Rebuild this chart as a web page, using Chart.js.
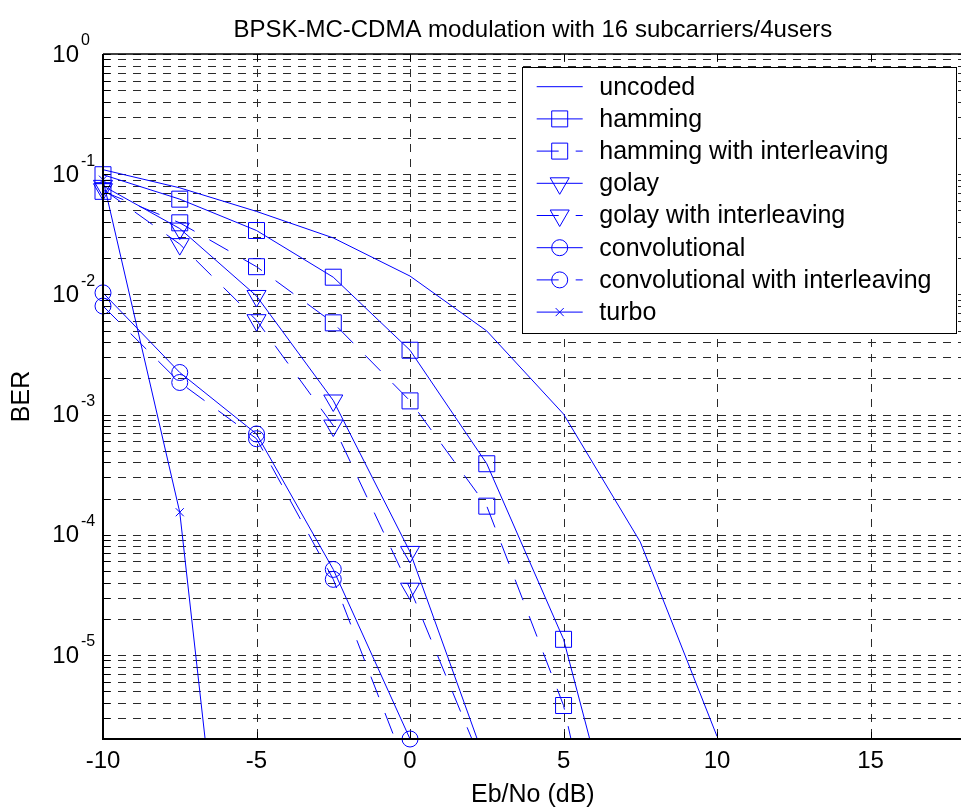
<!DOCTYPE html>
<html>
<head>
<meta charset="utf-8">
<title>BPSK-MC-CDMA BER</title>
<script src="https://cdn.jsdelivr.net/npm/chart.js@4.4.1/dist/chart.umd.js"></script>
<style>
  html, body { margin: 0; padding: 0; background: #fff; overflow: hidden; }
  canvas { display: block; }
</style>
</head>
<body>
<canvas id="berChart" width="975" height="812"></canvas>
<script>
// Eb/No points (dB) and the BER of each scheme
const ebno = [-10, -7.5, -5, -2.5, 0, 2.5, 5, 7.5, 10];

const berUncoded    = [0.109, 0.077, 0.049, 0.0295, 0.0142, 0.00496, 0.00101, 8.7e-5, 2.1e-6];
const berHamming    = [0.099, 0.062, 0.034, 0.0139, 0.00343, 3.9e-4, 1.35e-5, 5e-8];
const berHammingInt = [0.072, 0.0394, 0.017, 0.0058, 0.0013, 1.73e-4, 3.8e-6, 5e-9];
const berGolay      = [0.08, 0.0353, 0.0097, 0.00131, 7.2e-5, 1.2e-6];
const berGolayInt   = [0.075, 0.0262, 0.0061, 8.1e-4, 3.56e-5, 1.0e-6];
const berConv       = [0.0103, 0.00224, 6.9e-4, 5.15e-5, 2.0e-6];
const berConvInt    = [0.008, 0.00185, 6.3e-4, 4.26e-5, 9.5e-7];
const berTurbo      = [0.09, 1.54e-4, 3e-10];

const seriesNames = [
  'uncoded', 'hamming', 'hamming with interleaving', 'golay',
  'golay with interleaving', 'convolutional', 'convolutional with interleaving', 'turbo'
];

const xTicks = [-10, -5, 0, 5, 10, 15];
const yDecades = [0, -1, -2, -3, -4, -5];

const BLUE = '#0000ff';
const GRID = '#2a2a2a';
const FONT = '"Liberation Sans", Arial, Helvetica, sans-serif';
const DASH = [22, 17];

// chart.js point styles standing in for the matlab markers
const markerStyle = {
  square:   { pointStyle: 'rect',     radius: 11.3, rotation: 0 },
  triangle: { pointStyle: 'triangle', radius: 11,   rotation: 180 },
  circle:   { pointStyle: 'circle',   radius: 8,    rotation: 0 },
  cross:    { pointStyle: 'crossRot', radius: 5.7,  rotation: 0 }
};

const seriesStyle = [
  { values: berUncoded,    marker: null,       dash: [] },
  { values: berHamming,    marker: 'square',   dash: [] },
  { values: berHammingInt, marker: 'square',   dash: DASH },
  { values: berGolay,      marker: 'triangle', dash: [] },
  { values: berGolayInt,   marker: 'triangle', dash: DASH },
  { values: berConv,       marker: 'circle',   dash: [], clipBottom: 10 },
  { values: berConvInt,    marker: 'circle',   dash: DASH },
  { values: berTurbo,      marker: 'cross',    dash: [] }
];

const datasets = seriesStyle.map((s, i) => {
  const m = s.marker ? markerStyle[s.marker] : null;
  return {
    label: seriesNames[i],
    data: s.values.map((v, k) => ({ x: ebno[k], y: v })),
    borderColor: BLUE,
    borderWidth: 1,
    borderDash: s.dash,
    fill: false,
    tension: 0,
    pointStyle: m ? m.pointStyle : false,
    pointRadius: m ? m.radius : 0,
    pointRotation: m ? m.rotation : 0,
    pointBorderColor: BLUE,
    pointBackgroundColor: 'rgba(0,0,0,0)',
    pointBorderWidth: 1,
    marker: s.marker,
    order: seriesStyle.length - i,
    clip: { left: 14, top: 0, right: 0, bottom: s.clipBottom || 0 }
  };
});

// same shapes for the legend samples
function drawMarker(ctx, kind, x, y) {
  const r = markerStyle[kind].radius;
  ctx.beginPath();
  if (kind === 'square') {
    const h = r * Math.SQRT1_2;
    ctx.rect(x - h, y - h, 2 * h, 2 * h);
  } else if (kind === 'circle') {
    ctx.arc(x, y, r, 0, Math.PI * 2);
  } else if (kind === 'triangle') {
    ctx.moveTo(x, y + r);
    ctx.lineTo(x - 0.866 * r, y - 0.5 * r);
    ctx.lineTo(x + 0.866 * r, y - 0.5 * r);
    ctx.closePath();
  } else if (kind === 'cross') {
    const h = r * Math.SQRT1_2;
    ctx.moveTo(x - h, y - h); ctx.lineTo(x + h, y + h);
    ctx.moveTo(x + h, y - h); ctx.lineTo(x - h, y + h);
  }
  ctx.stroke();
}

// log grid lines: 1..9 x each decade inside the axis range
const yMin = 2e-6, yMax = 1;
const yGrid = [];
for (let e = -6; e <= 0; e++) {
  for (let m = 1; m <= 9; m++) {
    const v = m * Math.pow(10, e);
    if (v >= yMin * 0.999 && v <= yMax * 1.0001) yGrid.push(v);
  }
}

const matlabFrame = {
  id: 'matlabFrame',
  beforeDatasetsDraw(chart) {
    const { ctx, chartArea: a, scales: { x, y } } = chart;
    ctx.save();
    ctx.strokeStyle = GRID;
    ctx.lineWidth = 1;
    ctx.setLineDash([8, 7]);
    ctx.beginPath();
    yGrid.forEach(v => {
      const py = Math.round(y.getPixelForValue(v)) + 0.5;
      ctx.moveTo(a.left, py);
      ctx.lineTo(a.right, py);
    });
    xTicks.forEach(t => {
      const px = Math.round(x.getPixelForValue(t)) + 0.5;
      ctx.moveTo(px, a.top);
      ctx.lineTo(px, a.bottom);
    });
    ctx.stroke();
    ctx.restore();
  },
  afterDraw(chart) {
    const { ctx, chartArea: a, scales: { x, y } } = chart;
    ctx.save();

    // ticks pointing inwards
    ctx.strokeStyle = '#000';
    ctx.lineWidth = 1;
    ctx.beginPath();
    xTicks.forEach(t => {
      const px = Math.round(x.getPixelForValue(t)) + 0.5;
      ctx.moveTo(px, a.bottom); ctx.lineTo(px, a.bottom - 7);
      ctx.moveTo(px, a.top); ctx.lineTo(px, a.top + 7);
    });
    yGrid.forEach(v => {
      const py = Math.round(y.getPixelForValue(v)) + 0.5;
      ctx.moveTo(a.left, py); ctx.lineTo(a.left + 7, py);
    });
    ctx.stroke();

    // axis box
    ctx.lineWidth = 2;
    ctx.beginPath();
    ctx.moveTo(a.left, a.top); ctx.lineTo(a.left, a.bottom); ctx.lineTo(a.right, a.bottom);
    ctx.stroke();
    ctx.lineWidth = 1.5;
    ctx.beginPath();
    ctx.moveTo(a.left, a.top); ctx.lineTo(a.right, a.top); ctx.lineTo(a.right, a.bottom);
    ctx.stroke();

    // tick labels
    ctx.fillStyle = '#000';
    ctx.font = '24px ' + FONT;
    ctx.textAlign = 'center';
    ctx.textBaseline = 'middle';
    xTicks.forEach(t => ctx.fillText(String(t), x.getPixelForValue(t), 761));

    yDecades.forEach(e => {
      const py = y.getPixelForValue(Math.pow(10, e));
      ctx.font = '24px ' + FONT;
      ctx.textAlign = 'right';
      ctx.fillText('10', 79, py + 1);
      ctx.font = '16px ' + FONT;
      ctx.textAlign = 'left';
      ctx.fillText(String(e), 81, py - 13);
    });

    // titles
    const cx = (a.left + a.right) / 2;
    ctx.textAlign = 'center';
    ctx.font = '24px ' + FONT;
    ctx.fillText('BPSK-MC-CDMA modulation with 16 subcarriers/4users', cx, 30);
    ctx.font = '25px ' + FONT;
    ctx.fillText('Eb/No (dB)', cx, 795);
    ctx.save();
    ctx.translate(22, (a.top + a.bottom) / 2);
    ctx.rotate(-Math.PI / 2);
    ctx.fillText('BER', 0, 0);
    ctx.restore();

    // legend box
    const lx = 522.5, ly = 67.5, lw = 434, lh = 266;
    ctx.fillStyle = '#fff';
    ctx.fillRect(lx, ly, lw, lh);
    ctx.strokeStyle = '#000';
    ctx.lineWidth = 1;
    ctx.strokeRect(lx, ly, lw, lh);
    chart.data.datasets.forEach((ds, i) => {
      const ry = 86.7 + i * 32.2;
      ctx.strokeStyle = BLUE;
      ctx.setLineDash(ds.borderDash);
      ctx.beginPath();
      ctx.moveTo(536.7, ry);
      ctx.lineTo(582.7, ry);
      ctx.stroke();
      ctx.setLineDash([]);
      if (ds.marker) drawMarker(ctx, ds.marker, 559.7, ry);
      ctx.fillStyle = '#000';
      ctx.font = '25px ' + FONT;
      ctx.textAlign = 'left';
      ctx.textBaseline = 'middle';
      ctx.fillText(ds.label, 599.3, ry + 1);
    });

    ctx.restore();
  }
};

new Chart(document.getElementById('berChart'), {
  type: 'line',
  data: { datasets },
  options: {
    responsive: false,
    animation: false,
    events: [],
    layout: { padding: { left: 103, top: 54, right: 4, bottom: 73 } },
    plugins: { legend: { display: false }, title: { display: false }, tooltip: { enabled: false } },
    scales: {
      x: { type: 'linear', min: -10, max: 18, display: false },
      y: { type: 'logarithmic', min: yMin, max: yMax, display: false }
    }
  },
  plugins: [matlabFrame]
});
</script>
</body>
</html>
